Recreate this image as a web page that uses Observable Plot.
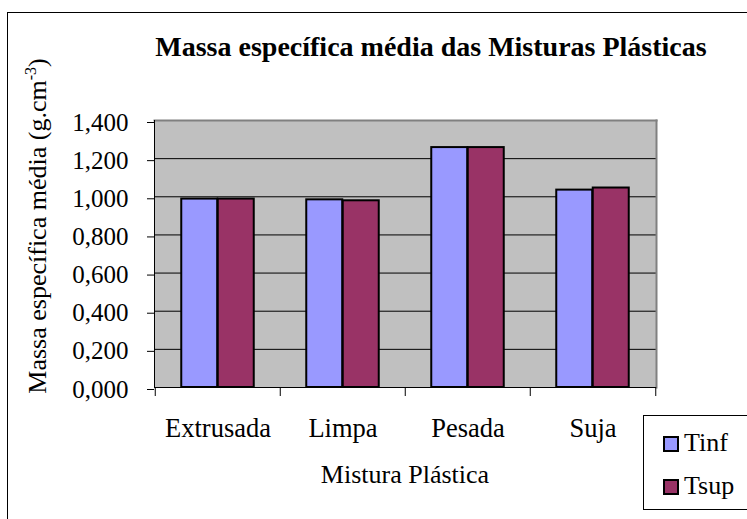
<!DOCTYPE html>
<html><head><meta charset="utf-8">
<script src="https://cdn.jsdelivr.net/npm/d3@7"></script>
<script src="https://cdn.jsdelivr.net/npm/@observablehq/plot@0.6"></script>
<style>
body{margin:0;background:#fff;color:#000;}
#wrap, #wrap div, #wrap span, #wrap sup{font-family:"Liberation Serif","Times New Roman","DejaVu Serif",serif;}
#wrap{position:relative;width:747px;height:519px;overflow:hidden;}
#frame{position:absolute;left:7px;top:12px;width:760px;height:540px;border:1px solid #000;box-sizing:border-box;}
#chart{position:absolute;left:0;top:0;}
#title{position:absolute;left:-69px;width:1000px;top:33px;text-align:center;font-weight:bold;font-size:28px;line-height:28px;white-space:nowrap;}
#ylabel{position:absolute;left:38px;top:226px;transform:translate(-50%,-50%) rotate(-90deg);font-size:26px;line-height:26px;white-space:nowrap;}
#ylabel sup{font-size:16px;vertical-align:10px;line-height:0;}
#xlabel{position:absolute;left:155px;width:500px;top:462px;text-align:center;font-size:26px;line-height:26px;white-space:nowrap;}
#legend{position:absolute;left:643px;top:415px;width:120px;height:95px;border:1px solid #000;box-sizing:border-box;background:#fff;}
.item{position:absolute;left:19px;font-size:26px;line-height:26px;white-space:nowrap;}
.sw{display:inline-block;width:16px;height:16px;border:2px solid #000;box-sizing:border-box;margin-right:5px;vertical-align:-1px;}
</style></head>
<body>
<div id="wrap">
  <div id="frame"></div>
  <div id="chart"></div>
  <div id="title">Massa específica média das Misturas Plásticas</div>
  <div id="ylabel">Massa específica média (g.cm<sup>-3</sup>)</div>
  <div id="xlabel">Mistura Plástica</div>
  <div id="legend"></div>
</div>
<script>
const categories = ["Extrusada", "Limpa", "Pesada", "Suja"];
const seriesNames = ["Tinf", "Tsup"];
const tinfValues = [0.988, 0.984, 1.258, 1.035];
const tsupValues = [0.988, 0.979, 1.258, 1.046];
const yTicks = [0, 0.2, 0.4, 0.6, 0.8, 1.0, 1.2, 1.4];
const seriesColors = ["#9999FF", "#993366"];

const W = 747, H = 519, mL = 154, mR = 91, mT = 120, mB = 132;
const bw = (W - mL - mR) / categories.length;
const barW = 36.5;
const gap = (bw - 2 * barW) / 2;

const data = categories.flatMap((c, i) => [
  {cat: c, s: seriesNames[0], v: tinfValues[i]},
  {cat: c, s: seriesNames[1], v: tsupValues[i]}
]);

const fmt = d => d.toFixed(3).replace(".", ",");

const chart = Plot.plot({
  width: W, height: H,
  marginLeft: mL, marginRight: mR, marginTop: mT, marginBottom: mB,
  style: {fontFamily: '"Liberation Serif","Times New Roman",serif', fontSize: "26px", color: "#000", background: "transparent", overflow: "visible"},
  x: {domain: categories, padding: 0, axis: null},
  y: {domain: [0, 1.4], axis: null},
  color: {domain: seriesNames, range: seriesColors},
  marks: [
    Plot.frame({fill: "#C0C0C0", stroke: "none"}),
    Plot.gridY(yTicks, {stroke: "#000", strokeOpacity: 1, strokeWidth: 1}),
    Plot.barY(data.filter(d => d.s === seriesNames[0]), {x: "cat", y: "v", fill: "s", stroke: "#000", strokeWidth: 2, insetLeft: gap, insetRight: gap + barW}),
    Plot.barY(data.filter(d => d.s === seriesNames[1]), {x: "cat", y: "v", fill: "s", stroke: "#000", strokeWidth: 2, insetLeft: gap + barW, insetRight: gap}),
    Plot.frame({anchor: "top", stroke: "#808080", strokeWidth: 2}),
    Plot.frame({anchor: "right", stroke: "#808080", strokeWidth: 2}),
    Plot.axisY(yTicks, {tickSize: 7, tickPadding: 19, tickFormat: fmt, label: null, dy: 2, fontSize: 25}),
    Plot.ruleY([0], {stroke: "#000", strokeWidth: 1}),
    Plot.frame({anchor: "left", stroke: "#000", strokeWidth: 1}),
    Plot.axisX({tickSize: 9, dx: -bw / 2, text: null, label: null}),
    Plot.axisX([categories[categories.length - 1]], {tickSize: 9, dx: bw / 2, text: null, label: null}),
    Plot.axisX({tickSize: 0, tickPadding: 31, label: null, fontSize: 26.5})
  ]
});
document.getElementById("chart").appendChild(chart);

const legend = document.getElementById("legend");
seriesNames.forEach((name, i) => {
  const it = document.createElement("div");
  it.className = "item";
  it.style.top = (14 + i * 43) + "px";
  const sw = document.createElement("span");
  sw.className = "sw";
  sw.style.background = seriesColors[i];
  it.appendChild(sw);
  it.appendChild(document.createTextNode(name));
  legend.appendChild(it);
});
</script>
</body></html>
